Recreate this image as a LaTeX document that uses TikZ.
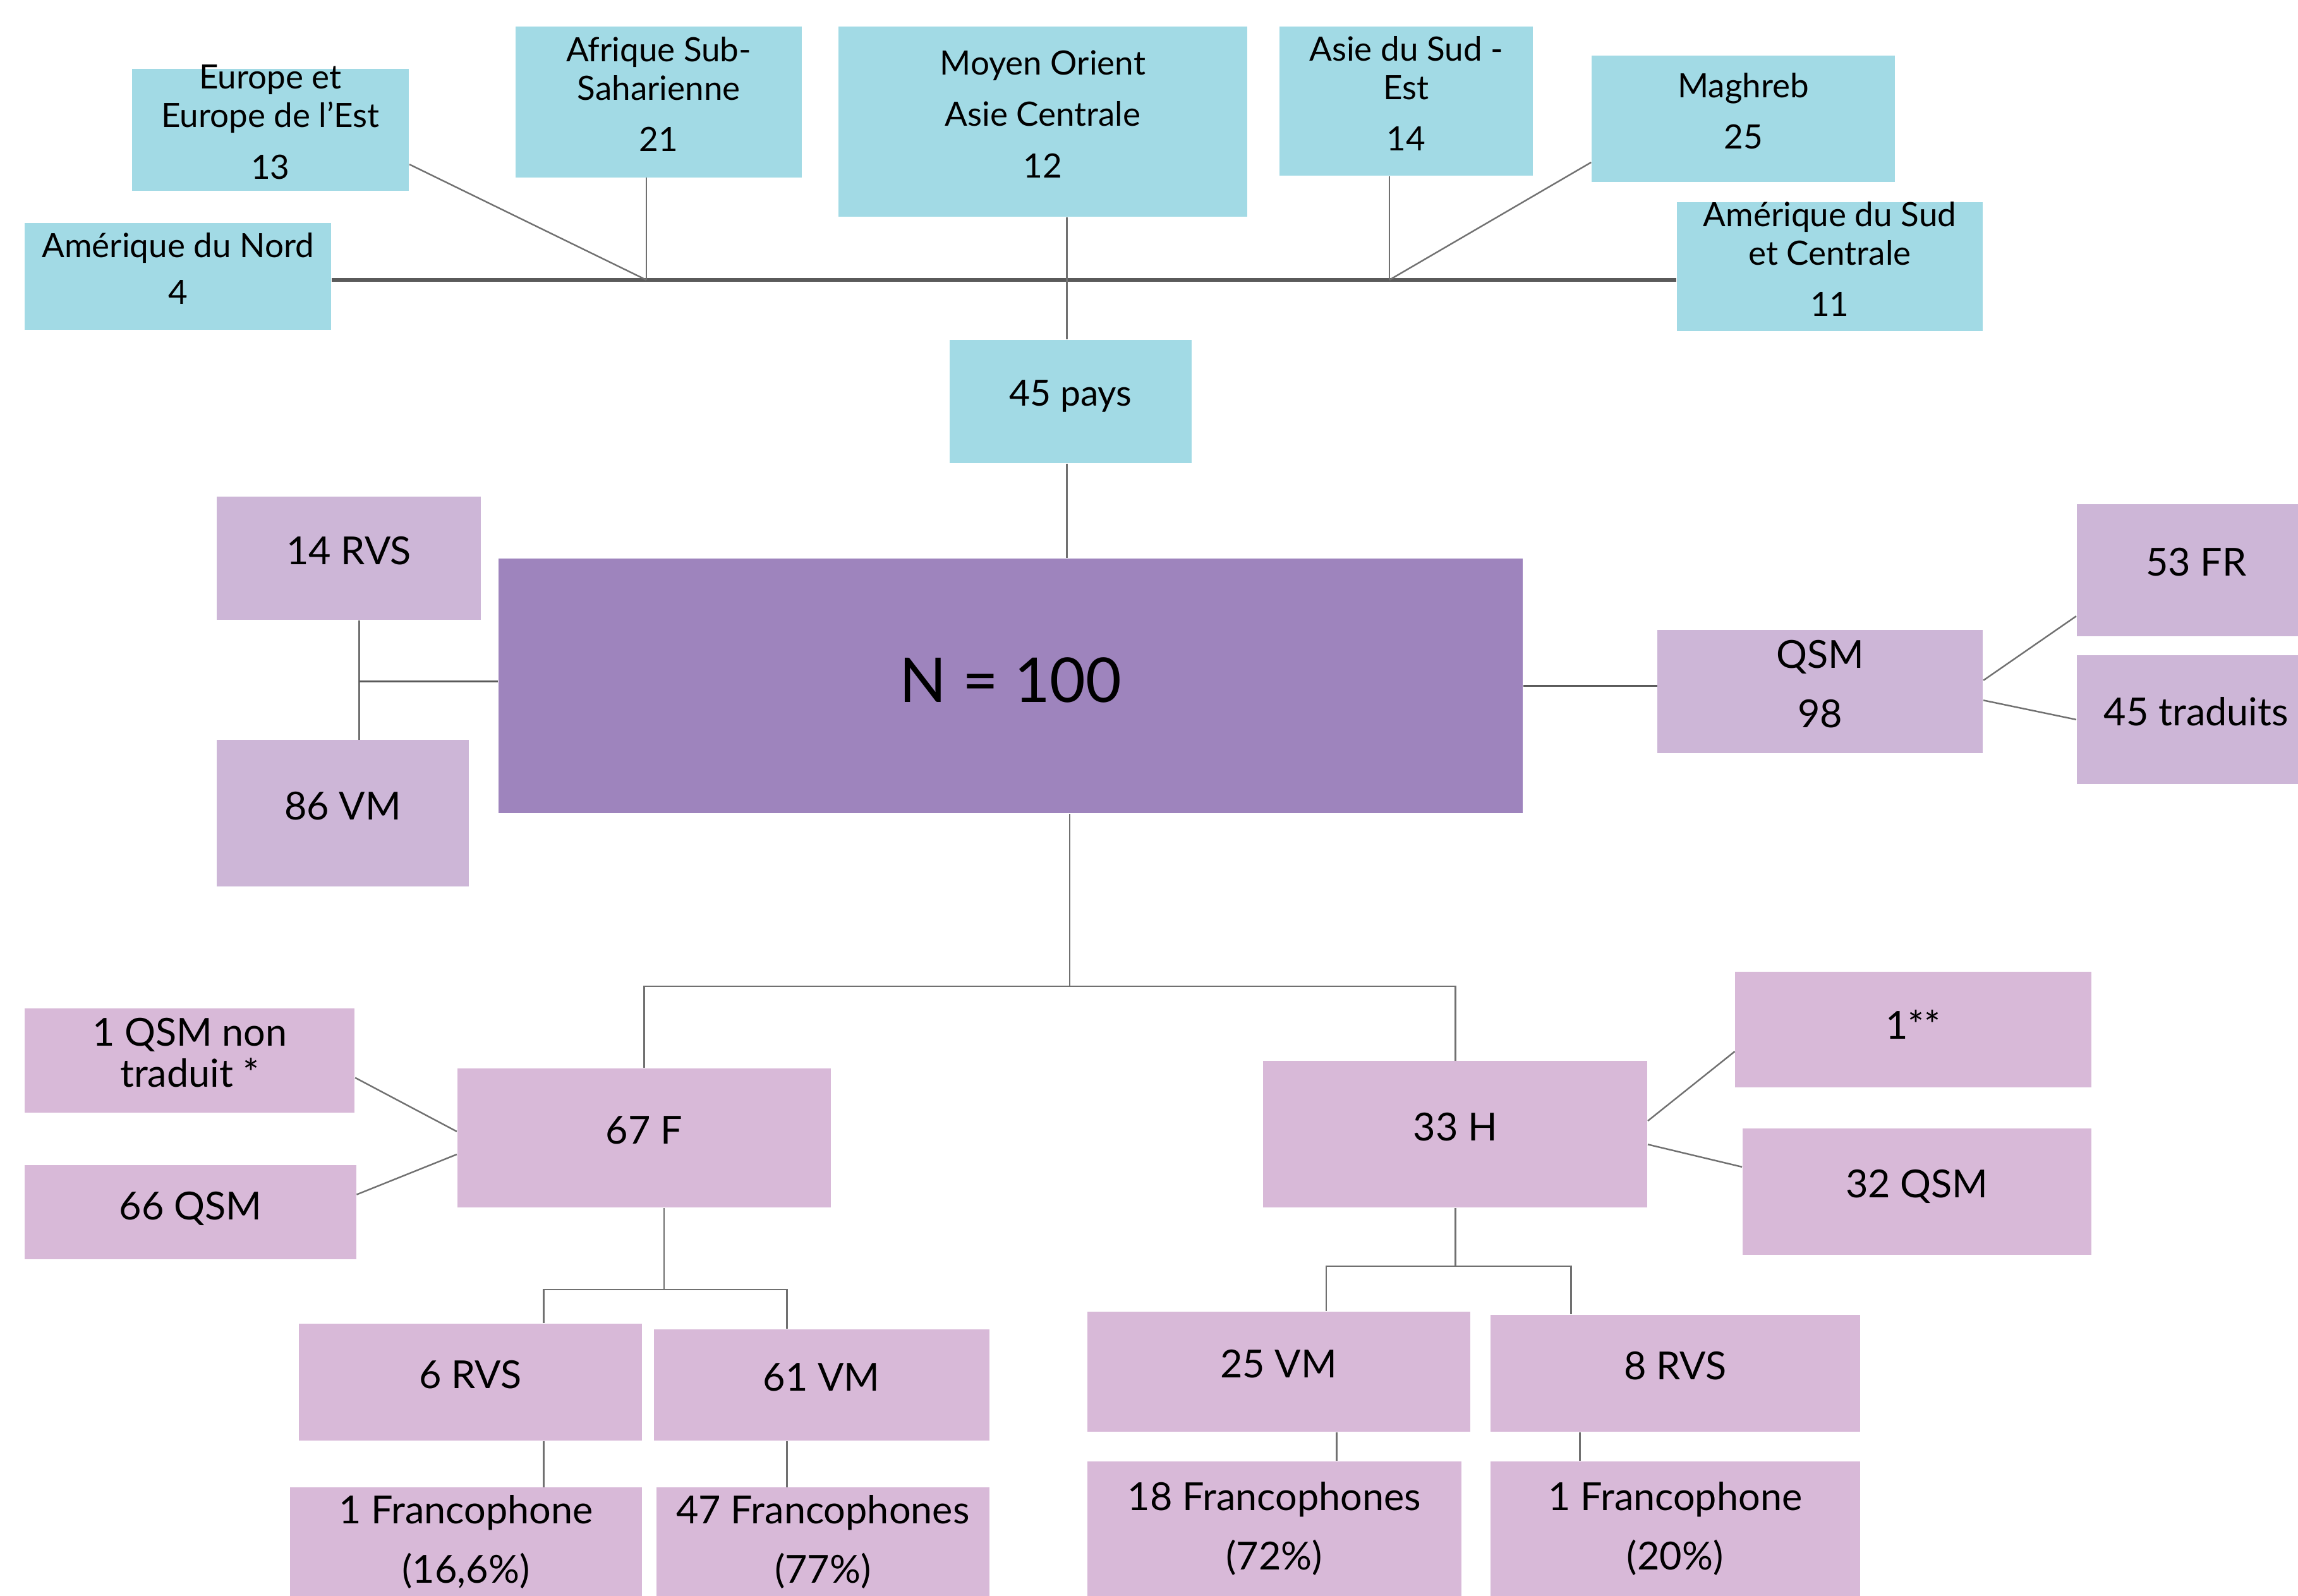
\documentclass[tikz,border=0pt]{standalone}
\usepackage{fontspec}
\setmainfont{Lato}
\usetikzlibrary{fit}
\definecolor{bleu}{HTML}{A2DAE5}
\definecolor{mauve}{HTML}{9E84BD}
\definecolor{lilas}{HTML}{CDB6D7}
\definecolor{rose}{HTML}{D8B9D8}
\definecolor{trait}{HTML}{707070}
\tikzset{
  boite/.style={rectangle,inner sep=0pt},
  region/.style={boite,fill=bleu},
  total/.style={boite,fill=mauve},
  outil/.style={boite,fill=lilas},
  groupe/.style={boite,fill=rose},
  txt/.style={inner sep=0pt,anchor=center,label distance=0pt,align=center,text=black,yshift=3pt,font=\fontsize{15}{18}\selectfont},
  petit/.style={txt,font=\fontsize{13}{15}\selectfont},
  lien/.style={draw=trait,line width=0.6pt},
  tronc/.style={draw=trait!80!black,line width=1.3pt}
}
\begin{document}
\begin{tikzpicture}[x=0.02cm,y=-0.02cm]
    \useasboundingbox (0,0) rectangle (1568,1089);
    \clip (0,0) rectangle (1568,1089);
    % regions
    \node[region,fit={(90,47) (279,130)},label={[petit]center:{Europe et\\Europe de l'Est\\[5pt]13}}] (eur) {};
    \node[region,fit={(352,18) (547,121)},label={[petit]center:{Afrique Sub-\\Saharienne\\[5pt]21}}] (afr) {};
    \node[region,fit={(572,18) (851,148)},label={[petit]center:{Moyen Orient\\[5pt]Asie Centrale\\[5pt]12}}] (moy) {};
    \node[region,fit={(873,18) (1046,120)},label={[petit]center:{Asie du Sud -\\Est\\[5pt]14}}] (asie) {};
    \node[region,fit={(1086,38) (1293,124)},label={[petit]center:{Maghreb\\[5pt]25}}] (mag) {};
    \node[region,fit={(17,152) (226,225)},label={[petit]center:{Amérique du Nord\\[3pt]4}}] (amn) {};
    \node[region,fit={(1144,138) (1353,226)},label={[petit]center:{Amérique du Sud\\et Centrale\\[5pt]11}}] (ams) {};
    \node[region,fit={(648,232) (813,316)},label={[txt,yshift=-1pt,font=\fontsize{14}{16}\selectfont]center:45 pays}] (pays) {};
    % total et outils
    \node[total,fit={(340,381) (1039,555)},label={[txt,yshift=-0.8pt,font=\fontsize{24}{28}\selectfont]center:N = 100}] (N) {};
    \node[outil,fit={(148,339) (328,423)},label={[txt]center:14 RVS}] (rvs14) {};
    \node[outil,fit={(148,505) (320,605)},label={[txt]center:86 VM}] (vm86) {};
    \node[outil,fit={(1131,430) (1353,514)},label={[txt]center:{QSM\\[5pt]98}}] (qsm) {};
    \node[outil,fit={(1417,344) (1580,434)},label={[txt]center:53 FR}] (fr53) {};
    \node[outil,fit={(1417,447) (1580,535)},label={[txt]center:45 traduits}] (trad) {};
    % femmes
    \node[groupe,fit={(312,729) (567,824)},label={[txt]center:67 F}] (f67) {};
    \node[groupe,fit={(17,688) (242,759)},label={[txt,font=\fontsize{15}{16}\selectfont]center:{1 QSM non\\traduit *}}] (qnt) {};
    \node[groupe,fit={(17,795) (243,859)},label={[txt,yshift=-1.6pt]center:66 QSM}] (q66) {};
    \node[groupe,fit={(204,903) (438,983)},label={[txt]center:6 RVS}] (rvs6) {};
    \node[groupe,fit={(446,907) (675,983)},label={[txt]center:61 VM}] (vm61) {};
    \node[groupe,fit={(198,1015) (438,1100)},label={[txt]center:{1 Francophone\\[5pt](16,6\%)}}] (fr1) {};
    \node[groupe,fit={(448,1015) (675,1100)},label={[txt]center:{47 Francophones\\[5pt](77\%)}}] (fr47) {};
    % hommes
    \node[groupe,fit={(862,724) (1124,824)},label={[txt]center:33 H}] (h33) {};
    \node[groupe,fit={(1184,663) (1427,742)},label={[txt,yshift=-1pt]center:1**}] (un) {};
    \node[groupe,fit={(1189,770) (1427,856)},label={[txt,yshift=-1pt]center:32 QSM}] (q32) {};
    \node[groupe,fit={(742,895) (1003,977)},label={[txt]center:25 VM}] (vm25) {};
    \node[groupe,fit={(1017,897) (1269,977)},label={[txt]center:8 RVS}] (rvs8) {};
    \node[groupe,fit={(742,997) (997,1100)},label={[txt]center:{18 Francophones\\[5pt](72\%)}}] (fr18) {};
    \node[groupe,fit={(1017,997) (1269,1100)},label={[txt]center:{1 Francophone\\[5pt](20\%)}}] (fr1b) {};
    % points de jonction
    \coordinate (hubA) at (441,191);
    \coordinate (hubB) at (948,191);
    \coordinate (axe) at (728,191);
    \coordinate (nodeG) at (245,465);
    \coordinate (bras) at (730,673);
    \coordinate (brasF) at (453,880);
    \coordinate (barF1) at (371,880);
    \coordinate (barF2) at (537,880);
    \coordinate (brasH) at (993,864);
    \coordinate (barH1) at (905,864);
    \coordinate (barH2) at (1072,864);
    \coordinate (barH3) at (912,987);
    \coordinate (barH4) at (1078,987);
    % liens du haut
    \draw[tronc] (amn.east |- hubA) -- (ams.west |- hubA);
    \draw[lien] (eur.-14) -- (hubA);
    \draw[lien] (hubA |- afr.south) -- (hubA);
    \draw[lien] (axe |- moy.south) -- (axe |- pays.north);
    \draw[lien] (hubB |- asie.south) -- (hubB);
    \draw[lien] (mag.196) -- (hubB);
    \draw[lien] (axe |- pays.south) -- (axe |- N.north);
    % liens autour de N
    \draw[lien] (nodeG |- rvs14.south) -- (nodeG |- vm86.north);
    \draw[tronc,line width=0.9pt] (nodeG) -- (N.west |- nodeG);
    \draw[tronc,line width=0.9pt] (N.east) -- (N.east -| qsm.west);
    \draw[lien] (qsm.4) -- (fr53.201);
    \draw[lien] (qsm.-3) -- (trad.west);
    \draw[lien] (N.south -| bras) -- (bras);
    \draw[lien] (f67.north) -- (f67.north |- bras) -- (h33.north |- bras) -- (h33.north);
    % liens femmes
    \draw[lien] (qnt.-6) -- (f67.178);
    \draw[lien] (q66.6) -- (f67.185);
    \draw[lien] (brasF |- f67.south) -- (brasF);
    \draw[lien] (barF1 |- rvs6.north) -- (barF1) -- (barF2) -- (barF2 |- vm61.north);
    \draw[lien] (barF1 |- rvs6.south) -- (barF1 |- fr1.north);
    \draw[lien] (barF2 |- vm61.south) -- (barF2 |- fr47.north);
    % liens hommes
    \draw[lien] (h33.4) -- (un.187);
    \draw[lien] (h33.-3) -- (q32.172);
    \draw[lien] (brasH |- h33.south) -- (brasH);
    \draw[lien] (barH1 |- vm25.north) -- (barH1) -- (barH2) -- (barH2 |- rvs8.north);
    \draw[lien] (barH3 |- vm25.south) -- (barH3 |- fr18.north);
    \draw[lien] (barH4 |- rvs8.south) -- (barH4 |- fr1b.north);
\end{tikzpicture}
\end{document}
